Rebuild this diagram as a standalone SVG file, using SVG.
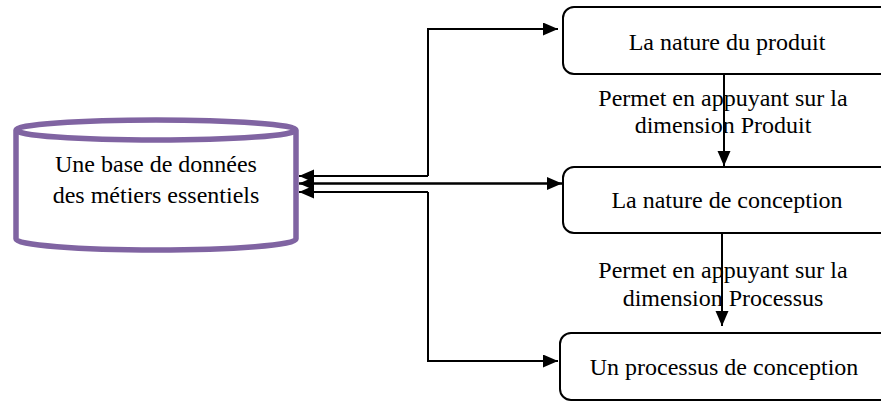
<svg xmlns="http://www.w3.org/2000/svg" width="881" height="401" viewBox="0 0 881 401">
<style>
.t{font-family:"Liberation Serif","Times New Roman",serif;font-size:24px;fill:#000;text-anchor:middle}
.box{fill:#fff;stroke:#000;stroke-width:2}
.ln{fill:none;stroke:#000;stroke-width:2}
.cyl{fill:#fff;stroke:#8064A2;stroke-width:5.5}
</style>
<defs>
<marker id="ah" markerUnits="userSpaceOnUse" markerWidth="16" markerHeight="14" refX="15" refY="6.5" orient="auto">
<path d="M0,0 L15,6.5 L0,13 z" fill="#000"/>
</marker>
</defs>
<g id="db">
<path class="cyl" d="M16,130 L16,239 A140,11 0 0 0 296,239 L296,130 A140,10 0 0 0 16,130 A140,10 0 0 0 296,130"/>
<text class="t" x="156" y="172">Une base de données</text>
<text class="t" x="156" y="203">des métiers essentiels</text>
</g>
<g id="n1">
<rect class="box" x="563" y="7" width="340" height="67" rx="11"/>
<text class="t" x="727" y="50">La nature du produit</text>
</g>
<g id="n2">
<rect class="box" x="563" y="167" width="340" height="66" rx="11"/>
<text class="t" x="727" y="208">La nature de conception</text>
</g>
<g id="n3">
<rect class="box" x="560" y="333" width="340" height="67" rx="11"/>
<text class="t" x="724" y="375">Un processus de conception</text>
</g>
<g id="connectors">
<path class="ln" d="M428,176 L428,29 L558,29" marker-end="url(#ah)"/>
<path class="ln" d="M428,176 L299,176" marker-end="url(#ah)"/>
<path class="ln" d="M299,183.5 L562,183.5" marker-end="url(#ah)"/>
<path class="ln" d="M562,183.5 L299,183.5" marker-end="url(#ah)"/>
<path class="ln" d="M428,192 L428,361 L558,361" marker-end="url(#ah)"/>
<path class="ln" d="M428,192 L299,192" marker-end="url(#ah)"/>
<path class="ln" d="M724,74 L724,166" marker-end="url(#ah)"/>
<path class="ln" d="M722,233 L722,326" marker-end="url(#ah)"/>
<text class="t" x="723" y="106">Permet en appuyant sur la</text>
<text class="t" x="723" y="133">dimension Produit</text>
<text class="t" x="723" y="278">Permet en appuyant sur la</text>
<text class="t" x="723" y="306">dimension Processus</text>
</g>
</svg>
